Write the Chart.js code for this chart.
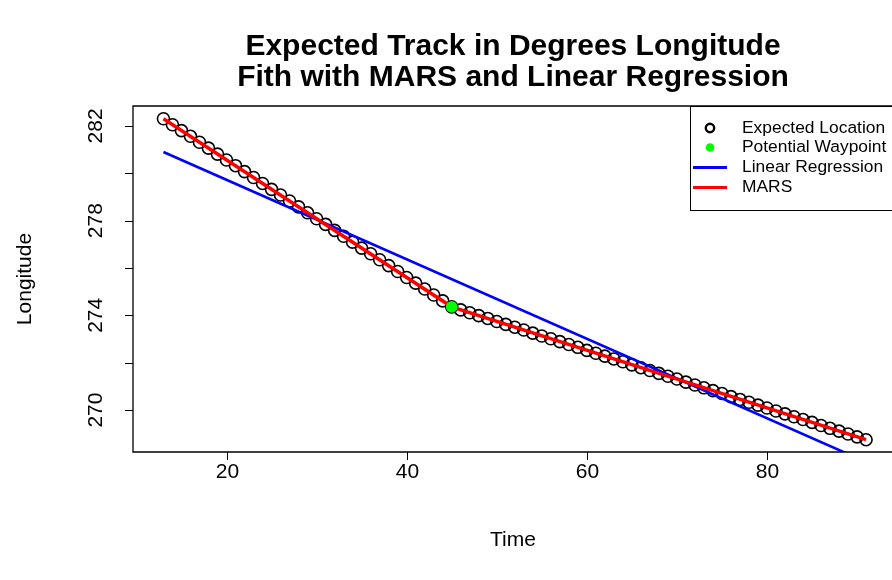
<!DOCTYPE html>
<html>
<head>
<meta charset="utf-8">
<script src="https://cdn.jsdelivr.net/npm/chart.js@4.4.1/dist/chart.umd.min.js"></script>
<style>
  html, body { margin: 0; padding: 0; background: #fff; }
  canvas { display: block; }
</style>
</head>
<body>
<canvas id="trackChart" width="892" height="580"></canvas>
<script>
// --- DATA ---
const timeValues = [13, 14, 15, 16, 17, 18, 19, 20, 21, 22, 23, 24, 25, 26, 27, 28, 29, 30,
  31, 32, 33, 34, 35, 36, 37, 38, 39, 40, 41, 42, 43, 44, 45, 46, 47, 48, 49, 50,
  51, 52, 53, 54, 55, 56, 57, 58, 59, 60, 61, 62, 63, 64, 65, 66, 67, 68, 69, 70,
  71, 72, 73, 74, 75, 76, 77, 78, 79, 80, 81, 82, 83, 84, 85, 86, 87, 88, 89, 90, 91];
const locationValues = [282.30, 282.05, 281.80, 281.56, 281.31, 281.06, 280.81, 280.56,
  280.32, 280.07, 279.82, 279.57, 279.32, 279.08, 278.83, 278.58, 278.33, 278.08,
  277.84, 277.59, 277.34, 277.09, 276.84, 276.60, 276.35, 276.10, 275.85, 275.60,
  275.36, 275.11, 274.86, 274.61, 274.36, 274.23, 274.11, 273.99, 273.87, 273.74,
  273.62, 273.50, 273.38, 273.25, 273.13, 273.01, 272.89, 272.77, 272.65, 272.52,
  272.40, 272.28, 272.16, 272.04, 271.91, 271.79, 271.67, 271.55, 271.43, 271.31,
  271.18, 271.06, 270.94, 270.82, 270.70, 270.57, 270.45, 270.33, 270.21, 270.09,
  269.96, 269.84, 269.72, 269.60, 269.48, 269.35, 269.23, 269.11, 268.99, 268.87, 268.75];

const waypointTime = [45];
const waypointValue = [274.36];

const lrTime = [13, 91];
const lrValue = [280.90, 267.81];

const marsTime = [13, 45, 91];
const marsValue = [282.30, 274.36, 268.75];

const xTicks = [20, 40, 60, 80];
const yTicks = [270, 272, 274, 276, 278, 280, 282];
const yTickLabels = [270, 274, 278, 282];

const titleLines = ['Expected Track in Degrees Longitude', 'Fith with MARS and Linear Regression'];
const legendLabels = ['Expected Location', 'Potential Waypoint', 'Linear Regression', 'MARS'];

const FONT = '"Liberation Sans", Arial, Helvetica, sans-serif';

function toPoints(xs, ys) {
  return xs.map((v, i) => ({ x: v, y: ys[i] }));
}

// --- R-like axes, labels and legend ---
const rStyle = {
  id: 'rStyle',
  afterDraw(chart) {
    const ctx = chart.ctx;
    const a = chart.chartArea;
    const sx = chart.scales.x;
    const sy = chart.scales.y;
    const tickLen = 8;

    ctx.save();
    ctx.strokeStyle = '#000';
    ctx.fillStyle = '#000';

    // plot box (right side falls outside the picture)
    ctx.lineWidth = 1.3;
    ctx.beginPath();
    ctx.moveTo(a.right + 5, a.top);
    ctx.lineTo(a.left, a.top);
    ctx.lineTo(a.left, a.bottom);
    ctx.lineTo(a.right + 5, a.bottom);
    ctx.stroke();

    // x ticks
    ctx.lineWidth = 1;
    ctx.font = '21px ' + FONT;
    ctx.textAlign = 'center';
    ctx.textBaseline = 'middle';
    xTicks.forEach(v => {
      const px = Math.round(sx.getPixelForValue(v)) + 0.5;
      ctx.beginPath();
      ctx.moveTo(px, a.bottom);
      ctx.lineTo(px, a.bottom + tickLen);
      ctx.stroke();
      ctx.fillText(String(v), px, 472);
    });

    // y ticks
    yTicks.forEach(v => {
      const py = Math.round(sy.getPixelForValue(v)) + 0.5;
      ctx.beginPath();
      ctx.moveTo(a.left, py);
      ctx.lineTo(a.left - tickLen, py);
      ctx.stroke();
    });
    yTickLabels.forEach(v => {
      const py = sy.getPixelForValue(v);
      ctx.save();
      ctx.translate(96, py);
      ctx.rotate(-Math.PI / 2);
      ctx.fillText(String(v), 0, 0);
      ctx.restore();
    });

    // axis titles
    const midX = 513;
    ctx.fillText('Time', midX, 540);
    ctx.save();
    ctx.translate(25, (a.top + a.bottom) / 2);
    ctx.rotate(-Math.PI / 2);
    ctx.fillText('Longitude', 0, 0);
    ctx.restore();

    // main title
    ctx.font = 'bold 30px ' + FONT;
    ctx.fillText(titleLines[0], midX, 47);
    ctx.fillText(titleLines[1], midX, 78);

    // legend
    const lx = 690, ly = 106, lh = 104;
    ctx.fillStyle = '#fff';
    ctx.fillRect(lx, ly, 300, lh);
    ctx.lineWidth = 1;
    ctx.strokeStyle = '#000';
    ctx.strokeRect(lx + 0.5, ly + 0.5, 300, lh);

    const rows = [128, 147.5, 167.5, 187.5];
    ctx.font = '17.4px ' + FONT;
    ctx.textAlign = 'left';
    ctx.fillStyle = '#000';
    legendLabels.forEach((t, i) => ctx.fillText(t, 742, rows[i]));

    ctx.lineWidth = 2.4;
    ctx.beginPath();
    ctx.arc(710, rows[0], 4.2, 0, Math.PI * 2);
    ctx.stroke();

    ctx.fillStyle = '#00ff00';
    ctx.beginPath();
    ctx.arc(710, rows[1], 4.3, 0, Math.PI * 2);
    ctx.fill();

    ctx.lineWidth = 3;
    ctx.strokeStyle = '#0000ff';
    ctx.beginPath();
    ctx.moveTo(693, rows[2]);
    ctx.lineTo(727, rows[2]);
    ctx.stroke();

    ctx.strokeStyle = '#ff0000';
    ctx.beginPath();
    ctx.moveTo(693, rows[3]);
    ctx.lineTo(727, rows[3]);
    ctx.stroke();

    ctx.restore();
  }
};

// --- CHART ---
const ctx = document.getElementById('trackChart').getContext('2d');
new Chart(ctx, {
  type: 'scatter',
  data: {
    datasets: [
      {
        label: 'Potential Waypoint',
        data: toPoints(waypointTime, waypointValue),
        pointRadius: 5.8,
        pointBackgroundColor: '#00ff00',
        pointBorderColor: '#00ff00',
        pointBorderWidth: 0,
        order: 0
      },
      {
        label: 'MARS',
        data: toPoints(marsTime, marsValue),
        showLine: true,
        borderColor: '#ff0000',
        borderWidth: 3.5,
        pointRadius: 0,
        order: 1
      },
      {
        label: 'Linear Regression',
        data: toPoints(lrTime, lrValue),
        showLine: true,
        borderColor: '#0000ff',
        borderWidth: 2.6,
        pointRadius: 0,
        clip: 0,
        order: 2
      },
      {
        label: 'Expected Location',
        data: toPoints(timeValues, locationValues),
        pointRadius: 6,
        pointBorderWidth: 1.6,
        pointBorderColor: '#000',
        pointBackgroundColor: 'rgba(0,0,0,0)',
        order: 3
      }
    ]
  },
  options: {
    responsive: false,
    animation: false,
    devicePixelRatio: 1,
    layout: { autoPadding: false, padding: { left: 133, top: 106, right: 0, bottom: 128 } },
    scales: {
      x: { type: 'linear', min: 9.62, max: 93.88, display: false },
      y: { type: 'linear', min: 268.23, max: 282.84, display: false }
    },
    plugins: {
      legend: { display: false },
      title: { display: false },
      tooltip: { enabled: false }
    }
  },
  plugins: [rStyle]
});
</script>
</body>
</html>
